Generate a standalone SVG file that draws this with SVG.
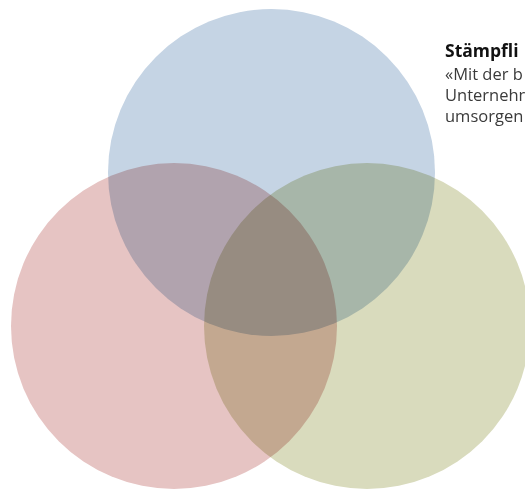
<svg xmlns="http://www.w3.org/2000/svg" width="525" height="490" viewBox="0 0 525 490">
  <style>
    .c { mix-blend-mode: multiply; }
    .t { font-family: "Open Sans", "Liberation Sans", sans-serif; font-size: 16.5px; fill: #3a3a3a; }
    .b { font-weight: bold; font-size: 17.5px; fill: #111; }
  </style>
  <rect width="525" height="490" fill="#ffffff"/>
  <g style="isolation:isolate">
    <g id="circle-blue"><circle class="c" cx="271.5" cy="172.5" r="163.5" fill="#c5d4e4"/></g>
    <g id="circle-red"><circle class="c" cx="174" cy="326" r="163" fill="#e6c4c3"/></g>
    <g id="circle-green"><circle class="c" cx="367" cy="326" r="163" fill="#d9dbbd"/></g>
  </g>
  <g id="connectors"></g>
  <g id="text">
    <text class="t b" x="445" y="57">Stämpfli</text>
    <text class="t" x="445" y="80">«Mit der b</text>
    <text class="t" x="445" y="101">Unternehm</text>
    <text class="t" x="445" y="122">umsorgen</text>
  </g>
</svg>
